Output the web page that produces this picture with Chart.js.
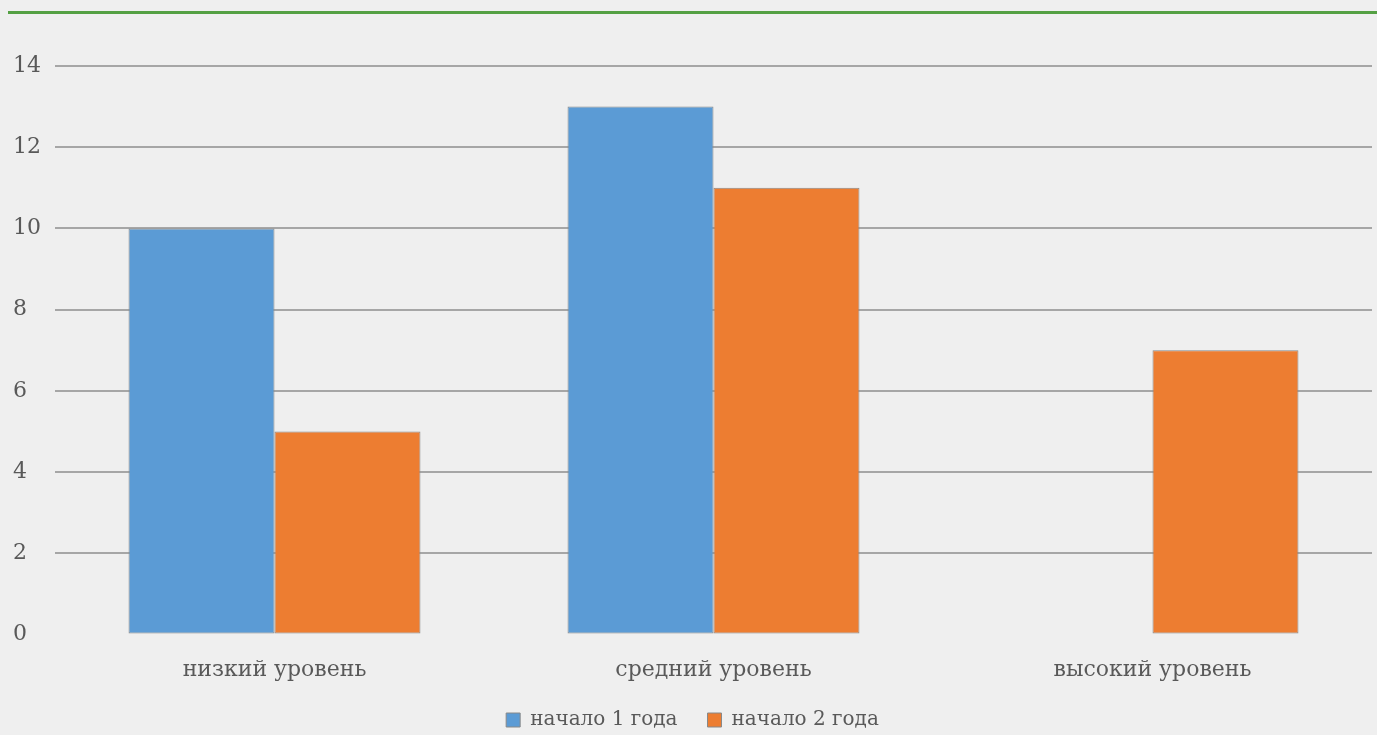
<!DOCTYPE html>
<html lang="ru">
<head>
    <meta charset="UTF-8">
    <title>Уровни</title>
    <script src="https://cdn.jsdelivr.net/npm/chart.js@4.4.1/dist/chart.umd.min.js"></script>
    <style>
        html, body {
            margin: 0;
            padding: 0;
            background: #efefef;
        }
        .wrap {
            position: relative;
            width: 1377px;
            height: 735px;
            overflow: hidden;
        }
        .top-line {
            position: absolute;
            left: 8px;
            right: 0;
            top: 11px;
            height: 3px;
            background: #54a043;
        }
        canvas {
            position: absolute;
            left: 0;
            top: 0;
        }
    </style>
</head>
<body>
<div class="wrap">
    <div class="top-line"></div>
    <canvas id="chart" width="1377" height="735"></canvas>
</div>

<script>
    // Data
    const categories = ['низкий уровень', 'средний уровень', 'высокий уровень'];
    const year1 = [10, 13, 0];
    const year2 = [5, 11, 7];
    const seriesNames = ['начало 1 года', 'начало 2 года'];

    const fontFamily = '"DejaVu Serif", "Liberation Serif", serif';
    const textColor = '#595959';

    new Chart(document.getElementById('chart'), {
        type: 'bar',
        data: {
            labels: categories,
            datasets: [{
                label: seriesNames[0],
                data: year1,
                backgroundColor: '#5b9bd5',
                borderColor: '#888888',
                borderWidth: 1,
                borderSkipped: false
            }, {
                label: seriesNames[1],
                data: year2,
                backgroundColor: '#ed7d31',
                borderColor: '#888888',
                borderWidth: 1,
                borderSkipped: false
            }]
        },
        options: {
            responsive: false,
            animation: false,
            layout: {
                padding: { left: 13, right: 5, top: 66, bottom: -5 }
            },
            datasets: {
                bar: {
                    categoryPercentage: 0.665,
                    barPercentage: 1.0
                }
            },
            plugins: {
                legend: {
                    position: 'bottom',
                    labels: {
                        color: textColor,
                        font: { family: fontFamily, size: 20 },
                        boxWidth: 14,
                        boxHeight: 14,
                        padding: 0,
                        // no vertical padding, wider gap between the two items
                        generateLabels: (chart) => {
                            const items = Chart.defaults.plugins.legend.labels.generateLabels(chart);
                            items.forEach((it, i) => {
                                if (i < items.length - 1) it.text = it.text + '\u2003\u2002';
                            });
                            return items;
                        }
                    }
                },
                tooltip: { enabled: false }
            },
            scales: {
                x: {
                    afterFit: (scale) => { scale.height = scale.height + 5; },
                    grid: { display: false, drawTicks: false, tickLength: 0 },
                    border: { display: false },
                    ticks: {
                        color: textColor,
                        font: { family: fontFamily, size: 22 },
                        padding: 22
                    }
                },
                y: {
                    min: 0,
                    max: 14,
                    afterFit: (scale) => { scale.width = 42; },
                    ticks: {
                        stepSize: 2,
                        color: textColor,
                        crossAlign: 'far',
                        font: { family: fontFamily, size: 22 },
                        padding: 0
                    },
                    grid: {
                        drawTicks: false,
                        lineWidth: 2,
                        color: (ctx) => ctx.tick && ctx.tick.value === 0 ? 'rgba(0,0,0,0)' : '#a6a6a6'
                    },
                    border: { display: false }
                }
            }
        }
    });
</script>
</body>
</html>
